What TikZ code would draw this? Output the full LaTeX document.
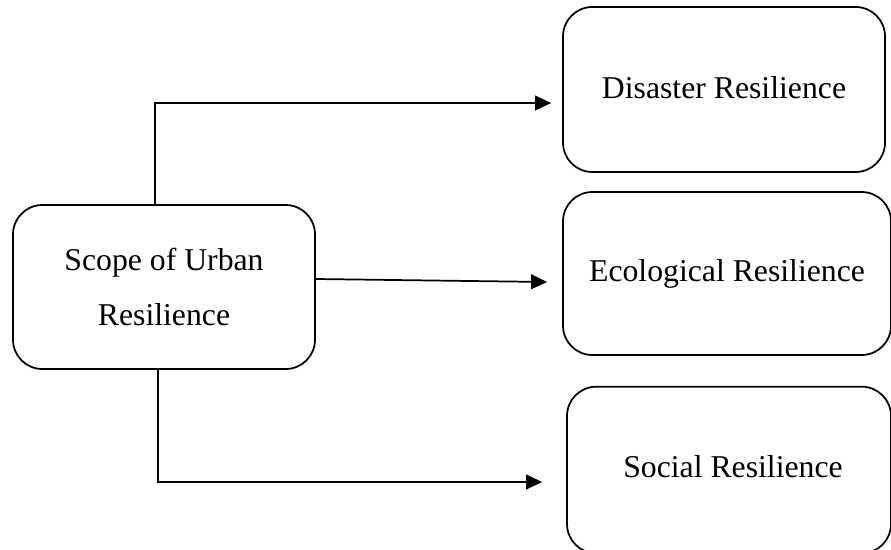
\documentclass[tikz,border=0pt]{standalone}
\usepackage{fontspec}
\setmainfont{Liberation Serif}
\usetikzlibrary{arrows.meta,calc}
\tikzset{
  box/.style={draw, line width=1.3pt, rounded corners=22pt, align=center,
    font=\fontsize{23.8pt}{41pt}\selectfont, inner sep=0pt},
  arr/.style={draw, line width=1.3pt, -{Triangle[length=12pt,width=11pt]}}
}
\begin{document}
\begin{tikzpicture}[x=0.75pt,y=-0.75pt]
\useasboundingbox (0,0) rectangle (891,549);
\clip (0,0) rectangle (891,549);
\node[box, minimum width=226.5pt, minimum height=123pt] (lb) at (164,287) {Scope of Urban\\Resilience};
\node[box, minimum width=241.5pt, minimum height=123.75pt] (dis) at (724,89.5) {\raisebox{3pt}{Disaster Resilience}};
\node[box, minimum width=246pt, minimum height=122.25pt] (eco) at (727,273.5) {\raisebox{3pt}{Ecological Resilience}};
\node[box, minimum width=243pt, minimum height=125pt] (soc) at (729,470) {\raisebox{6pt}{\hspace*{6pt}Social Resilience}};
\draw[arr] ($(lb.north)+(-9,0)$) |- ($(dis.west)+(-11,13.5)$);
\draw[arr] ($(lb.east)+(0,-8)$) -- ($(eco.west)+(-15,8.5)$);
\draw[arr] ($(lb.south)+(-6,0)$) |- ($(soc.west)+(-24,12)$);
\end{tikzpicture}
\end{document}
